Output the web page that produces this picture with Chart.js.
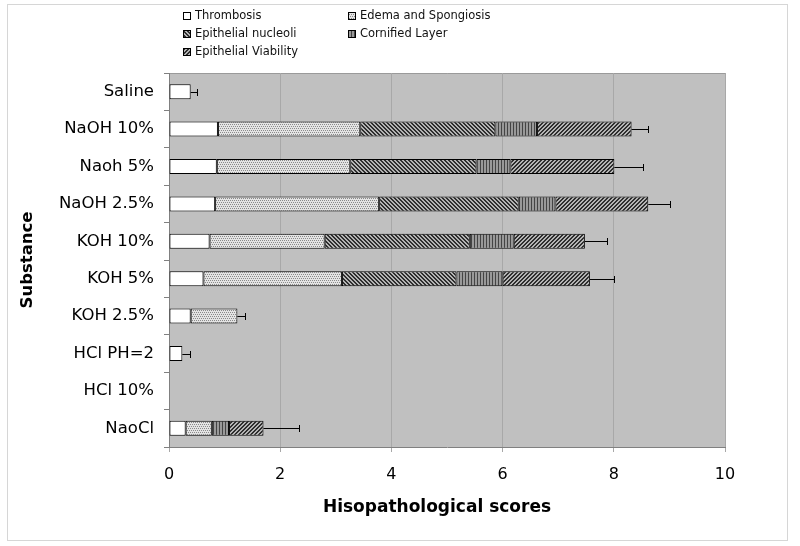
<!DOCTYPE html>
<html>
<head>
<meta charset="utf-8">
<title>Hisopathological scores</title>
<script src="https://cdn.jsdelivr.net/npm/chart.js@4.4.1/dist/chart.umd.min.js"></script>
<style>
    html, body { margin: 0; padding: 0; background: #fff; }
    #grafica { display: block; }
</style>
</head>
<body>
<canvas id="grafica" width="800" height="546"></canvas>
<script>
// Datos
const sustancias = ['Saline', 'NaOH 10%', 'Naoh 5%', 'NaOH 2.5%', 'KOH 10%', 'KOH 5%', 'KOH 2.5%', 'HCl PH=2', 'HCl 10%', 'NaoCl'];
const thrombosis = [0.39, 0.88, 0.86, 0.83, 0.73, 0.62, 0.39, 0.24, 0, 0.30];
const edema      = [0, 2.56, 2.40, 2.95, 2.07, 2.49, 0.84, 0, 0, 0.47];
const nucleoli   = [0, 2.43, 2.27, 2.51, 2.61, 2.06, 0, 0, 0, 0];
const cornified  = [0, 0.75, 0.61, 0.66, 0.79, 0.83, 0, 0, 0, 0.31];
const viability  = [0, 1.70, 1.87, 1.67, 1.28, 1.57, 0, 0, 0, 0.62];
const errores    = [0.11, 0.30, 0.52, 0.39, 0.40, 0.44, 0.13, 0.13, 0, 0.63];
const ticksX     = [0, 2, 4, 6, 8, 10];

const canvas = document.getElementById('grafica');
const ctx = canvas.getContext('2d');
const FUENTE = "'DejaVu Sans', Verdana, sans-serif";
Chart.defaults.font.family = FUENTE;

// Tramas tipo Excel
function trama(ancho, alto, pintar) {
    const c = document.createElement('canvas');
    c.width = ancho;
    c.height = alto;
    const g = c.getContext('2d');
    for (let y = 0; y < alto; y++) {
        for (let x = 0; x < ancho; x++) {
            g.fillStyle = pintar(x, y);
            g.fillRect(x, y, 1, 1);
        }
    }
    return ctx.createPattern(c, 'repeat');
}

const tramaEdema = trama(4, 4, (x, y) => {
    const punto = (y === 0 && (x === 0 || x === 2)) || (y === 2 && (x === 1 || x === 3));
    return punto ? '#8a8a8a' : '#e4e4e4';
});
const tramaNucleoli = trama(4, 4, (x, y) => ((x - y + 8) % 4 < 2 ? '#2e2e2e' : '#b4b4b4'));
const tramaCornified = trama(3, 1, (x) => (x === 0 ? '#444444' : '#999999'));
const tramaViability = trama(4, 4, (x, y) => ((x + y) % 4 < 2 ? '#2e2e2e' : '#b4b4b4'));

const series = [
    { label: 'Thrombosis', data: thrombosis, fill: '#ffffff' },
    { label: 'Edema and Spongiosis', data: edema, fill: tramaEdema },
    { label: 'Epithelial nucleoli', data: nucleoli, fill: tramaNucleoli },
    { label: 'Cornified Layer', data: cornified, fill: tramaCornified },
    { label: 'Epithelial Viability', data: viability, fill: tramaViability }
];

// Posición de la leyenda (dos columnas, tres filas)
const leyendaCols = [183, 348];
const leyendaFilas = [16, 34, 52];
const leyendaOrden = [[0, 0], [1, 0], [0, 1], [1, 1], [0, 2]];
const tituloX = 'Hisopathological scores';

const extras = {
    id: 'extras',
    beforeDraw(chart) {
        const { ctx, chartArea: a } = chart;
        ctx.save();
        // marco exterior
        ctx.strokeStyle = '#d6d6d6';
        ctx.lineWidth = 1;
        ctx.strokeRect(7.5, 4.5, 780, 536);
        // fondo del área de trazado
        ctx.fillStyle = '#c0c0c0';
        ctx.fillRect(a.left, a.top, a.right - a.left, a.bottom - a.top);
        ctx.strokeStyle = '#9a9a9a';
        ctx.beginPath();
        ctx.moveTo(a.left, a.top + 0.5);
        ctx.lineTo(a.right + 0.5, a.top + 0.5);
        ctx.lineTo(a.right + 0.5, a.bottom);
        ctx.stroke();
        ctx.restore();
    },
    afterDatasetsDraw(chart) {
        const { ctx, scales: { x, y } } = chart;
        ctx.save();
        ctx.strokeStyle = '#000';
        ctx.lineWidth = 1;
        sustancias.forEach((s, i) => {
            if (!errores[i]) return;
            const total = series.reduce((acc, serie) => acc + serie.data[i], 0);
            const x1 = x.getPixelForValue(total);
            const x2 = Math.round(x.getPixelForValue(total + errores[i])) + 0.5;
            const yc = Math.round(y.getPixelForValue(i)) + 0.5;
            ctx.beginPath();
            ctx.moveTo(x1, yc);
            ctx.lineTo(x2, yc);
            ctx.moveTo(x2, yc - 3.5);
            ctx.lineTo(x2, yc + 3.5);
            ctx.stroke();
        });
        ctx.restore();
    },
    afterDraw(chart) {
        const { ctx, chartArea: a } = chart;
        ctx.save();
        // leyenda
        ctx.font = '11.5px ' + FUENTE;
        ctx.textBaseline = 'middle';
        ctx.textAlign = 'left';
        series.forEach((serie, k) => {
            const [c, f] = leyendaOrden[k];
            const lx = leyendaCols[c];
            const ly = leyendaFilas[f];
            ctx.fillStyle = serie.fill;
            ctx.fillRect(lx, ly - 4, 8, 8);
            ctx.strokeStyle = '#000';
            ctx.lineWidth = 1;
            ctx.strokeRect(lx + 0.5, ly - 3.5, 7, 7);
            ctx.fillStyle = '#111';
            ctx.fillText(serie.label, lx + 12, ly + 0.5);
        });
        // título del eje X (algo a la izquierda del centro, como en Excel)
        ctx.font = 'bold 17px ' + FUENTE;
        ctx.textAlign = 'center';
        ctx.fillStyle = '#000';
        ctx.fillText(tituloX, (a.left + a.right) / 2 - 10, 508);
        ctx.restore();
    }
};

const chart = new Chart(ctx, {
    type: 'bar',
    data: {
        labels: sustancias,
        datasets: series.map(serie => ({
            label: serie.label,
            data: serie.data,
            backgroundColor: serie.fill,
            borderColor: '#000',
            borderWidth: 1,
            borderSkipped: false,
            categoryPercentage: 1,
            barPercentage: 0.4
        }))
    },
    options: {
        responsive: false,
        animation: false,
        indexAxis: 'y',
        layout: { padding: { top: 73, right: 75, bottom: 6, left: 7 } },
        plugins: {
            legend: { display: false },
            tooltip: { enabled: false }
        },
        scales: {
            x: {
                stacked: true,
                min: 0,
                max: 10,
                afterBuildTicks(s) { s.ticks = ticksX.map(v => ({ value: v })); },
                ticks: { color: '#000', font: { size: 16 }, padding: 13 },
                grid: { color: '#a8a8a8', tickColor: '#a8a8a8', tickLength: 5 },
                border: { color: '#808080' },
                afterFit(s) { s.height = 93; }
            },
            y: {
                stacked: true,
                ticks: { color: '#000', font: { size: 16.5 }, padding: 10 },
                grid: { drawOnChartArea: false, offset: true, color: '#808080', tickLength: 5 },
                border: { color: '#808080' },
                title: {
                    display: true,
                    text: 'Substance',
                    color: '#000',
                    font: { size: 16.5, weight: 'bold' },
                    padding: { top: 11, bottom: 0 }
                },
                afterFit(s) { s.width = 162; }
            }
        }
    },
    plugins: [extras]
});
</script>
</body>
</html>
